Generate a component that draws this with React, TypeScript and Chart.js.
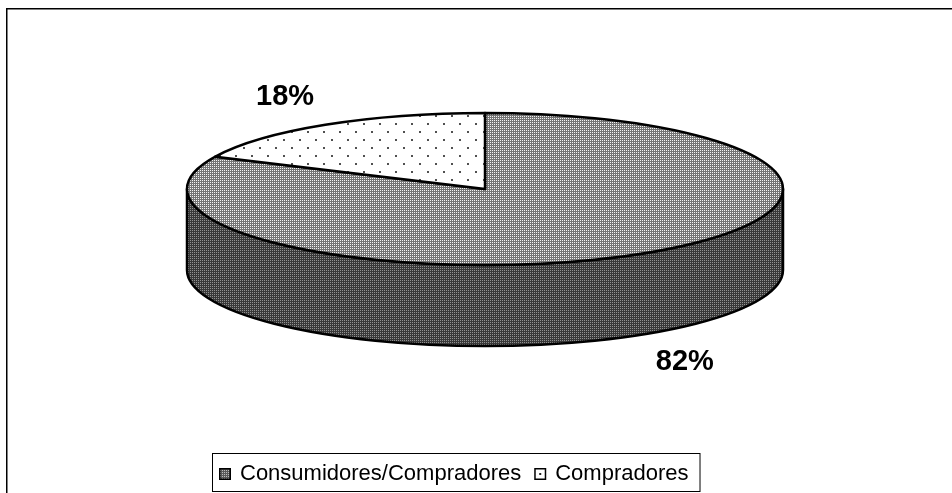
import React, { useEffect, useRef } from 'react';
import { Chart, registerables } from 'chart.js';

Chart.register(...registerables);

// Shares of respondents per group (percent)
const categories: string[] = ['Consumidores/Compradores', 'Compradores'];
const shares: number[] = [82, 18];

const W = 952;
const H = 493;
const FONT = '"Liberation Sans", Arial, Helvetica, sans-serif';

// Geometry of the tilted pie (pixels)
const RX = 298;
const RY = 76;
const DEPTH = 81;

type Painter = (g: CanvasRenderingContext2D) => void;

function makePattern(ctx: CanvasRenderingContext2D, w: number, h: number, paint: Painter) {
  const c = document.createElement('canvas');
  c.width = w;
  c.height = h;
  const g = c.getContext('2d') as CanvasRenderingContext2D;
  paint(g);
  return ctx.createPattern(c, 'repeat') as CanvasPattern;
}

function buildPatterns(ctx: CanvasRenderingContext2D) {
  const checkerTop = makePattern(ctx, 2, 2, (g) => {
    g.fillStyle = '#747474';
    g.fillRect(0, 0, 2, 2);
    g.fillStyle = '#f4f4f4';
    g.fillRect(0, 0, 1, 1);
  });
  const checkerSide = makePattern(ctx, 2, 2, (g) => {
    g.fillStyle = '#383838';
    g.fillRect(0, 0, 2, 2);
    g.fillStyle = '#929292';
    g.fillRect(0, 0, 1, 1);
  });
  const checkerKey = makePattern(ctx, 2, 2, (g) => {
    g.fillStyle = '#5a5a5a';
    g.fillRect(0, 0, 2, 2);
    g.fillStyle = '#bdbdbd';
    g.fillRect(0, 0, 1, 1);
  });
  const dotsTop = makePattern(ctx, 16, 16, (g) => {
    g.fillStyle = '#ffffff';
    g.fillRect(0, 0, 16, 16);
    g.fillStyle = '#505050';
    g.fillRect(3, 3, 2, 2);
    g.fillRect(11, 11, 2, 2);
  });
  const dotsSide = makePattern(ctx, 16, 16, (g) => {
    g.fillStyle = '#d8d8d8';
    g.fillRect(0, 0, 16, 16);
    g.fillStyle = '#444444';
    g.fillRect(3, 3, 2, 2);
    g.fillRect(11, 11, 2, 2);
  });
  return {
    top: [checkerTop, dotsTop],
    side: [checkerSide, dotsSide],
    key: [checkerKey, '#ffffff'] as (CanvasPattern | string)[],
  };
}

const pie3d = {
  id: 'pie3d',
  beforeDraw(chart: any) {
    const ctx: CanvasRenderingContext2D = chart.ctx;
    ctx.save();
    ctx.fillStyle = '#ffffff';
    ctx.fillRect(0, 0, chart.width, chart.height);
    // outer frame of the chart area
    ctx.strokeStyle = '#000000';
    ctx.lineWidth = 1.5;
    ctx.strokeRect(6.75, 8.75, chart.width + 20, chart.height + 20);
    ctx.restore();
  },
  afterDatasetsDraw(chart: any) {
    const ctx: CanvasRenderingContext2D = chart.ctx;
    const meta = chart.getDatasetMeta(0);
    const arcs = meta.data as any[];
    const values = chart.data.datasets[0].data as number[];
    const total = values.reduce((a, b) => a + b, 0);
    const cx = arcs[0].x;
    const cy = arcs[0].y;
    const pats = buildPatterns(ctx);

    ctx.save();
    ctx.lineJoin = 'round';
    ctx.strokeStyle = '#000000';
    ctx.lineWidth = 2.5;

    // front side walls: parts of each slice facing the viewer (angles 0..π)
    arcs.forEach((arc, i) => {
      const s = arc.startAngle;
      const e = arc.endAngle;
      for (let k = -1; k <= 1; k++) {
        const lo = Math.max(s, 2 * Math.PI * k);
        const hi = Math.min(e, 2 * Math.PI * k + Math.PI);
        if (hi > lo) {
          ctx.beginPath();
          ctx.ellipse(cx, cy, RX, RY, 0, lo, hi, false);
          ctx.ellipse(cx, cy + DEPTH, RX, RY, 0, hi, lo, true);
          ctx.closePath();
          ctx.fillStyle = pats.side[i];
          ctx.fill();
          ctx.stroke();
        }
      }
    });

    // top faces
    arcs.forEach((arc, i) => {
      ctx.beginPath();
      ctx.moveTo(cx, cy);
      ctx.ellipse(cx, cy, RX, RY, 0, arc.startAngle, arc.endAngle, false);
      ctx.closePath();
      ctx.fillStyle = pats.top[i];
      ctx.fill();
      ctx.stroke();
    });

    // percentage labels outside each slice
    ctx.fillStyle = '#000000';
    ctx.font = `bold 29px ${FONT}`;
    ctx.textAlign = 'center';
    ctx.textBaseline = 'middle';
    arcs.forEach((arc, i) => {
      const mid = (arc.startAngle + arc.endAngle) / 2;
      const sn = Math.sin(mid);
      const x = cx + (RX + 75) * Math.cos(mid);
      const y = cy + (RY + 33) * sn + (sn > 0 ? DEPTH : 0);
      const pct = Math.round((values[i] / total) * 100);
      ctx.fillText(`${pct}%`, x, y);
    });
    ctx.restore();
  },
  afterDraw(chart: any) {
    const ctx: CanvasRenderingContext2D = chart.ctx;
    const pats = buildPatterns(ctx);
    const labels = chart.data.labels as string[];
    ctx.save();
    ctx.font = `22px ${FONT}`;
    ctx.textAlign = 'left';
    ctx.textBaseline = 'alphabetic';
    const boxLeft = 212.5;
    const boxTop = 453.5;
    const boxBottom = 491.5;
    const baseline = 480;
    const marker = 12;
    let x = 219;
    labels.forEach((label, i) => {
      const top = baseline - marker;
      ctx.fillStyle = pats.key[i];
      ctx.fillRect(x, top, marker, marker);
      ctx.strokeStyle = '#000000';
      ctx.lineWidth = 1.5;
      ctx.strokeRect(x + 0.75, top + 0.75, marker - 1.5, marker - 1.5);
      if (i === 1) {
        ctx.fillStyle = '#222222';
        ctx.fillRect(x + 5, top + 5, 2, 2);
      }
      x += marker + 9;
      ctx.fillStyle = '#000000';
      ctx.fillText(label, x, baseline);
      x += ctx.measureText(label).width + 13;
    });
    const boxRight = x - 1.5;
    ctx.strokeStyle = '#000000';
    ctx.lineWidth = 1;
    ctx.strokeRect(boxLeft, boxTop, boxRight - boxLeft, boxBottom - boxTop);
    ctx.restore();
  },
};

export default function App() {
  const ref = useRef<HTMLCanvasElement | null>(null);

  useEffect(() => {
    const canvas = ref.current;
    if (!canvas) return;
    const chart = new Chart(canvas, {
      type: 'pie',
      data: {
        labels: categories,
        datasets: [
          {
            data: shares,
            backgroundColor: 'rgba(0,0,0,0)',
            borderWidth: 0,
          },
        ],
      },
      options: {
        responsive: false,
        animation: false,
        devicePixelRatio: 1,
        layout: { padding: { left: 18, right: 0, top: 0, bottom: 115 } },
        plugins: {
          legend: { display: false },
          tooltip: { enabled: false },
        },
      },
      plugins: [pie3d],
    });
    return () => chart.destroy();
  }, []);

  return (
    <div style={{ position: 'fixed', left: 0, top: 0, width: W, height: H, background: '#fff' }}>
      <canvas ref={ref} width={W} height={H} style={{ display: 'block' }} />
    </div>
  );
}
